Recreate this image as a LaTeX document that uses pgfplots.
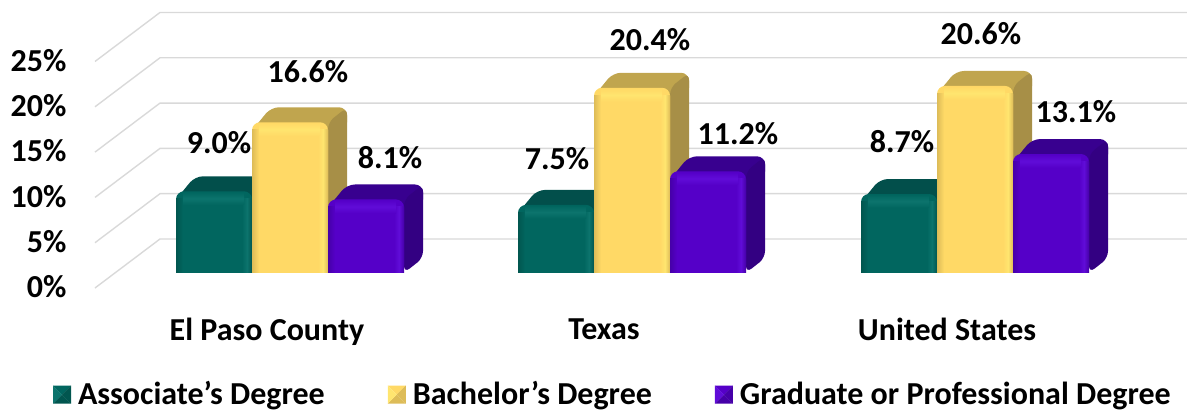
\documentclass[border=0pt]{standalone}
\usepackage{pgfplots}
\pgfplotsset{compat=1.18}
\usepackage{fontspec}
\setmainfont{Carlito}
\definecolor{tealF}{HTML}{01665F}
\definecolor{tealT}{HTML}{024F4B}
\definecolor{tealS}{HTML}{014A46}
\definecolor{tealL}{HTML}{0C746D}
\definecolor{tealD}{HTML}{01564F}
\definecolor{yelF}{HTML}{FFD966}
\definecolor{yelT}{HTML}{C0A54E}
\definecolor{yelS}{HTML}{A78F47}
\definecolor{yelL}{HTML}{FFE56F}
\definecolor{yelD}{HTML}{DDBC58}
\definecolor{purF}{HTML}{5500C8}
\definecolor{purT}{HTML}{38008F}
\definecolor{purS}{HTML}{330082}
\definecolor{purL}{HTML}{600CD8}
\definecolor{purD}{HTML}{4600A8}
\definecolor{gridc}{HTML}{D9D9D9}
% left x of front face, value, top colour, side colour
\newcommand{\depthfaces}[4]{%
  \pgfmathsetmacro\xa{#1}\pgfmathsetmacro\xb{#1+76}%
  \pgfmathsetmacro\xc{#1+19}\pgfmathsetmacro\xd{#1+95}%
  \pgfmathsetmacro\ya{#2}\pgfmathsetmacro\yb{#2+1.65}%
  \pgfmathsetmacro\yz{#2-0.9}%
  \addplot[forget plot,draw=none,fill=#3,rounded corners=8pt] coordinates {(\xa,\yz)(\xc,\yb)(\xd,\yb)(\xd,\yz)(\xb,\yz)} -- cycle;
  \addplot[forget plot,draw=none,fill=#4,rounded corners=7pt] coordinates {(\xb,0)(\xd,1.65)(\xd,\yb)(\xb,\ya)} -- cycle;
}
% bevel bands on the front face: left x, value, base, light, dark
\newcommand{\bevel}[5]{%
  \pgfmathsetmacro\xa{#1}\pgfmathsetmacro\xb{#1+76}%
  \pgfmathsetmacro\xe{#1+7}\pgfmathsetmacro\xf{#1+66}%
  \pgfmathsetmacro\xg{#1+71}\pgfmathsetmacro\xk{#1+68}%
  \pgfmathsetmacro\ya{#2-0.1}\pgfmathsetmacro\yb{#2-1.5}%
  \pgfmathsetmacro\yc{#2-0.8}%
  \addplot[forget plot,draw=none,fill=#3] coordinates {(\xa,0)(\xb,0)(\xb,1)(\xa,1)} -- cycle;
  \addplot[forget plot,draw=none,left color=#5,right color=#3] coordinates {(\xa,0)(\xe,0)(\xe,\yc)(\xa,\yc)} -- cycle;
  \addplot[forget plot,draw=none,left color=#3,right color=#4] coordinates {(\xf,0)(\xg,0)(\xg,\yc)(\xf,\yc)} -- cycle;
  \addplot[forget plot,draw=none,left color=#4,right color=#5] coordinates {(\xg,0)(\xb,0)(\xb,\yc)(\xg,\yc)} -- cycle;
  \addplot[forget plot,draw=none,top color=#4,bottom color=#3] coordinates {(\xe,\yc)(\xk,\yc)(\xk,\yb)(\xe,\yb)} -- cycle;
  \addplot[forget plot,draw=none,top color=#3,bottom color=#4] coordinates {(\xe,\ya)(\xk,\ya)(\xk,\yc)(\xe,\yc)} -- cycle;
}
\newcommand{\pyramid}[4]{%
  \begin{scope}[sharp corners,yshift=-1pt]
  \fill[#1] (0pt,-9pt)--(18pt,-9pt)--(9pt,0pt)--cycle;
  \fill[#2] (0pt,9pt)--(18pt,9pt)--(9pt,0pt)--cycle;
  \fill[#3] (0pt,-9pt)--(0pt,9pt)--(9pt,0pt)--cycle;
  \fill[#4] (18pt,-9pt)--(18pt,9pt)--(9pt,0pt)--cycle;
  \end{scope}
}
\begin{document}
\begin{tikzpicture}[x=1pt,y=1pt]
\useasboundingbox (0,0) rectangle (1187,412);
% back walls and tick labels
\begin{axis}[
  at={(70pt,412pt)},anchor=north west,
  width=1117pt,height=305pt,scale only axis,
  xmin=70,xmax=1187,ymin=-1.876,ymax=31.788,
  axis line style={draw=none},tick style={draw=none},
  major tick length=0pt,
  xtick={267,604,947},
  xticklabels={El Paso County,Texas,United States},
  ytick={0,5,10,15,20,25},
  yticklabels={0\%,5\%,10\%,15\%,20\%,25\%},
  tick label style={font=\fontsize{32}{33}\selectfont\bfseries},
  yticklabel style={anchor=east,xshift=0pt,yshift=1pt},
  xticklabel style={anchor=north,yshift=-10pt},
  clip=false,
]
\addplot[gridc,line width=1.4pt] coordinates {(95,0)(160,5.41)(1187,5.41)};
\addplot[gridc,line width=1.4pt] coordinates {(95,5)(160,10.41)(1187,10.41)};
\addplot[gridc,line width=1.4pt] coordinates {(95,10)(160,15.41)(1187,15.41)};
\addplot[gridc,line width=1.4pt] coordinates {(95,15)(160,20.41)(1187,20.41)};
\addplot[gridc,line width=1.4pt] coordinates {(95,20)(160,25.41)(1187,25.41)};
\addplot[gridc,line width=1.4pt] coordinates {(95,25)(160,30.41)(1187,30.41)};
\end{axis}
% bars, front plane
\begin{axis}[
  at={(0pt,0pt)},anchor=south west,
  width=1187pt,height=412pt,scale only axis,
  xmin=0,xmax=1187,ymin=-15.308,ymax=30.066,
  hide axis,clip=false,
  legend columns=3,
  legend style={at={(53pt,4pt)},anchor=south west,draw=none,fill=none,
    font=\fontsize{32}{33}\selectfont\bfseries,
    inner sep=0pt,outer sep=0pt,
    /tikz/every even column/.style={column sep=61pt},
    /tikz/every odd column/.style={column sep=5pt}},
  legend cell align=left,
]
\depthfaces{176}{9.0}{tealT}{tealS}
\depthfaces{518}{7.5}{tealT}{tealS}
\depthfaces{861}{8.7}{tealT}{tealS}
\addplot[ybar,bar width=76,bar shift=-76,draw=none,fill=tealF,rounded corners=8pt,
  legend image code/.code={\pyramid{tealD}{tealF}{tealL}{tealD}}]
  coordinates {(290,9.0)(632,7.5)(975,8.7)};
\addlegendentry{Associate’s Degree}
\bevel{176}{9.0}{tealF}{tealL}{tealD}
\bevel{518}{7.5}{tealF}{tealL}{tealD}
\bevel{861}{8.7}{tealF}{tealL}{tealD}
\depthfaces{252}{16.6}{yelT}{yelS}
\depthfaces{594}{20.4}{yelT}{yelS}
\depthfaces{937}{20.6}{yelT}{yelS}
\addplot[ybar,bar width=76,bar shift=0,draw=none,fill=yelF,rounded corners=8pt,
  legend image code/.code={\pyramid{yelD}{yelF}{yelL}{yelD}}]
  coordinates {(290,16.6)(632,20.4)(975,20.6)};
\addlegendentry{Bachelor’s Degree}
\bevel{252}{16.6}{yelF}{yelL}{yelD}
\bevel{594}{20.4}{yelF}{yelL}{yelD}
\bevel{937}{20.6}{yelF}{yelL}{yelD}
\depthfaces{328}{8.1}{purT}{purS}
\depthfaces{670}{11.2}{purT}{purS}
\depthfaces{1013}{13.1}{purT}{purS}
\addplot[ybar,bar width=76,bar shift=76,draw=none,fill=purF,rounded corners=8pt,
  legend image code/.code={\pyramid{purD}{purF}{purL}{purD}}]
  coordinates {(290,8.1)(632,11.2)(975,13.1)};
\addlegendentry{Graduate or Professional Degree}
\bevel{328}{8.1}{purF}{purL}{purD}
\bevel{670}{11.2}{purF}{purL}{purD}
\bevel{1013}{13.1}{purF}{purL}{purD}
\end{axis}
\begin{scope}[every node/.style={font=\fontsize{32}{33}\selectfont\bfseries,inner sep=0pt}]
\node at (219,269) {9.0\%};
\node at (308,340) {16.6\%};
\node at (390,254) {8.1\%};
\node at (557,253) {7.5\%};
\node at (650,372) {20.4\%};
\node at (738,278) {11.2\%};
\node at (902,270) {8.7\%};
\node at (981,378) {20.6\%};
\node at (1076,300) {13.1\%};
\end{scope}
\end{tikzpicture}
\end{document}
